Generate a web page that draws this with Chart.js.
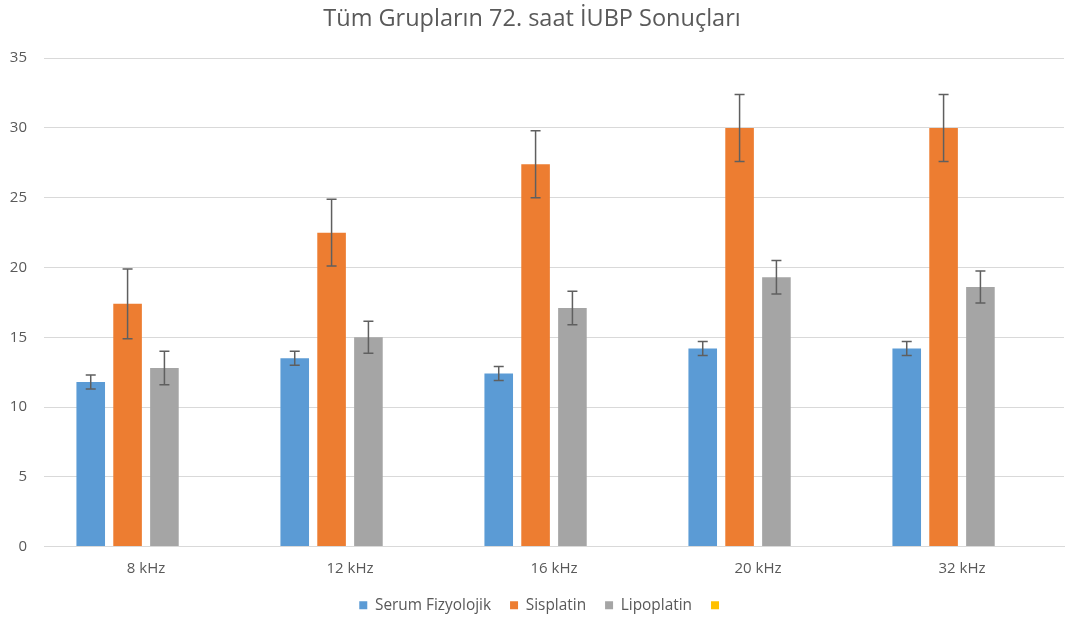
<!DOCTYPE html>
<html>
<head>
<meta charset="utf-8">
<script src="https://cdn.jsdelivr.net/npm/chart.js@4.4.0/dist/chart.umd.min.js"></script>
<style>
  html, body { margin: 0; padding: 0; background: #ffffff; }
  #wrap { width: 1066px; height: 619px; }
</style>
</head>
<body>
<div id="wrap"><canvas id="c" width="1066" height="619"></canvas></div>
<script>
const categories = ['8 kHz', '12 kHz', '16 kHz', '20 kHz', '32 kHz'];
const serumValues = [11.8, 13.5, 12.4, 14.2, 14.2];
const serumErrors = [0.5, 0.5, 0.5, 0.5, 0.5];
const sisplatinValues = [17.4, 22.5, 27.4, 30.0, 30.0];
const sisplatinErrors = [2.5, 2.4, 2.4, 2.4, 2.4];
const lipoplatinValues = [12.8, 15.0, 17.1, 19.3, 18.6];
const lipoplatinErrors = [1.2, 1.15, 1.2, 1.2, 1.15];
const yTicks = [0, 5, 10, 15, 20, 25, 30, 35];
const seriesNames = ['Serum Fizyolojik', 'Sisplatin', 'Lipoplatin', ''];

const errorBarPlugin = {
  id: 'errorBars',
  afterDatasetsDraw(chart) {
    const ctx = chart.ctx;
    const y = chart.scales.y;
    chart.data.datasets.forEach((ds, i) => {
      if (!ds.errors) return;
      const meta = chart.getDatasetMeta(i);
      meta.data.forEach((bar, j) => {
        const v = ds.data[j];
        const e = ds.errors[j];
        if (v == null || e == null) return;
        const x = bar.x;
        const yTop = y.getPixelForValue(v + e);
        const yBot = y.getPixelForValue(v - e);
        ctx.save();
        ctx.strokeStyle = '#5f5f5f';
        ctx.lineWidth = 1.5;
        ctx.beginPath();
        ctx.moveTo(x, yTop); ctx.lineTo(x, yBot);
        ctx.moveTo(x - 5, yTop); ctx.lineTo(x + 5, yTop);
        ctx.moveTo(x - 5, yBot); ctx.lineTo(x + 5, yBot);
        ctx.stroke();
        ctx.restore();
      });
    });
  }
};

const legendShiftPlugin = {
  id: 'legendShift',
  afterLayout(chart) {
    if (chart.legend) { chart.legend.left += 22; }
  }
};

const fontFamily = "'Open Sans', 'Noto Sans', sans-serif";

new Chart(document.getElementById('c'), {
  type: 'bar',
  data: {
    labels: categories,
    datasets: [
      { label: seriesNames[0], data: serumValues, errors: serumErrors, backgroundColor: '#5b9bd5' },
      { label: seriesNames[1], data: sisplatinValues, errors: sisplatinErrors, backgroundColor: '#ed7d31' },
      { label: seriesNames[2], data: lipoplatinValues, errors: lipoplatinErrors, backgroundColor: '#a5a5a5' },
      { label: seriesNames[3], data: [null, null, null, null, null], backgroundColor: '#ffc000' }
    ]
  },
  options: {
    responsive: false,
    animation: false,
    devicePixelRatio: 1,
    categoryPercentage: 0.7225,
    barPercentage: 0.776,
    layout: { padding: { left: 0, right: 2, top: 0, bottom: -4 } },
    plugins: {
      title: {
        display: true,
        text: 'Tüm Grupların 72. saat İUBP Sonuçları',
        color: '#595959',
        font: { family: fontFamily, size: 23.5, weight: 'normal' },
        padding: { top: 5, bottom: 25 }
      },
      legend: {
        position: 'bottom',
        labels: {
          color: '#595959',
          font: { family: fontFamily, size: 15.4 },
          boxWidth: 8,
          boxHeight: 8,
          padding: 19
        }
      },
      tooltip: { enabled: false }
    },
    scales: {
      x: {
        afterFit(scale) { scale.height = 32; },
        grid: { display: false, drawTicks: false },
        border: { color: '#d9d9d9', width: 1 },
        ticks: { color: '#595959', font: { family: fontFamily, size: 15 }, padding: 13 }
      },
      y: {
        min: 0, max: 35,
        afterFit(scale) { scale.width = 44; },
        afterBuildTicks(scale) { scale.ticks = yTicks.map(v => ({ value: v })); },
        grid: { color: '#d9d9d9', drawTicks: false },
        border: { display: false },
        ticks: { color: '#595959', font: { family: fontFamily, size: 15 }, padding: 17 }
      }
    }
  },
  plugins: [errorBarPlugin, legendShiftPlugin]
});
</script>
</body>
</html>
